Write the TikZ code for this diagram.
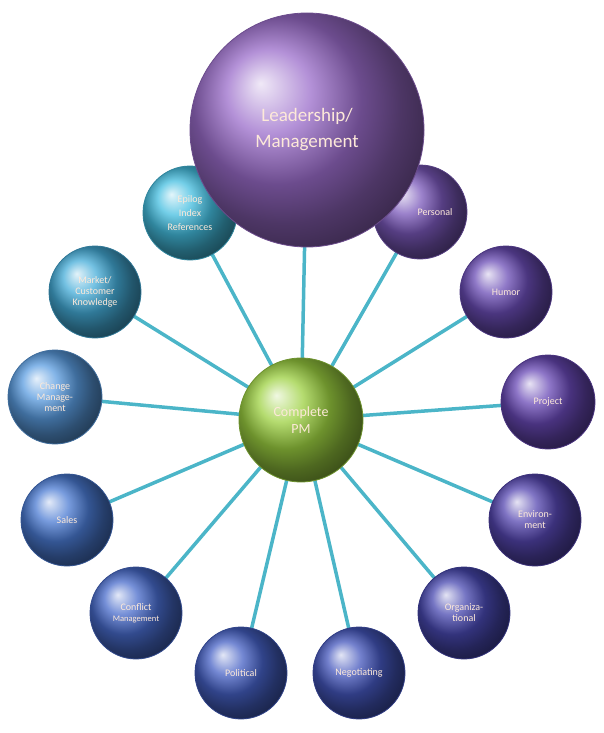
\documentclass[tikz,border=0pt]{standalone}
\usepackage{fontspec}
\setmainfont{Carlito}
\definecolor{txt}{HTML}{FDE9D9}
\definecolor{linkc}{HTML}{4BB5C8}
\definecolor{cHum}{HTML}{6A4CB5}
\definecolor{cPro}{HTML}{6848B5}
\definecolor{cEnv}{HTML}{5546B0}
\definecolor{cOrg}{HTML}{4848B0}
\definecolor{cNeg}{HTML}{4456BC}
\definecolor{cPol}{HTML}{4560C4}
\definecolor{cCon}{HTML}{476ACA}
\definecolor{cSal}{HTML}{4A7AD2}
\definecolor{cChg}{HTML}{5A9CE0}
\definecolor{cMkt}{HTML}{44ACD8}
\definecolor{cEpi}{HTML}{44BEE0}
\definecolor{cPer}{HTML}{7A58BA}
\definecolor{cLead}{HTML}{9A6CCA}
\definecolor{cCpm}{HTML}{9CD040}
\begin{document}
\begin{tikzpicture}[x=1pt,y=-1pt,
  ball/.style={circle,shading=ball,ball color=#1,draw=#1!70!black,line width=0.8pt,text=txt,align=center,inner sep=0pt,font=\fontsize{10}{11}\selectfont},
  link/.style={draw=linkc,line width=3.5pt}]
\useasboundingbox (0,0) rectangle (603,733);
\coordinate (c0) at (301,420);
\coordinate (l0) at (307,130);
\foreach \p in {(506,292),(548,402),(535,520),(464,613),(359,673),(241,673),(136,613),(67,520),(55,397),(95,292),(190,213),(420,212),(307,130)}
  \draw[link] (c0) -- \p;
\node[ball=cHum,minimum size=92pt] (hum) at (506,292) {Humor};
\node[ball=cPro,minimum size=94pt] (pro) at (548,402) {Project};
\node[ball=cEnv,minimum size=92pt] (env) at (535,520) {Environ-\\ment};
\node[ball=cOrg,minimum size=92pt] (org) at (464,613) {Organiza-\\tional};
\node[ball=cNeg,minimum size=92pt] (neg) at (359,673) {Negotiating};
\node[ball=cPol,minimum size=92pt] (pol) at (241,673) {Political};
\node[ball=cCon,minimum size=92pt] (con) at (136,613) {Conflict\\{\fontsize{8.5}{10}\selectfont Management}};
\node[ball=cSal,minimum size=92pt] (sal) at (67,520) {Sales};
\node[ball=cChg,minimum size=94pt] (chg) at (55,397) {Change\\Manage-\\ment};
\node[ball=cMkt,minimum size=92pt] (mkt) at (95,292) {Market/\\Customer\\Knowledge};
\node[ball=cEpi,minimum size=94pt] (epi) at (190,213) {Epilog\\[3pt]Index\\[3pt]References};
\node[ball=cPer,minimum size=94pt] (per) at (420,212) {\hspace*{30pt}Personal};
\node[ball=cLead,minimum size=234pt,font=\fontsize{19}{26}\selectfont] (lead) at (l0) {Leadership/\\Management};
\node[ball=cCpm,minimum size=124pt,font=\fontsize{14}{17}\selectfont] (cpm) at (c0) {Complete\\PM};
\end{tikzpicture}
\end{document}
